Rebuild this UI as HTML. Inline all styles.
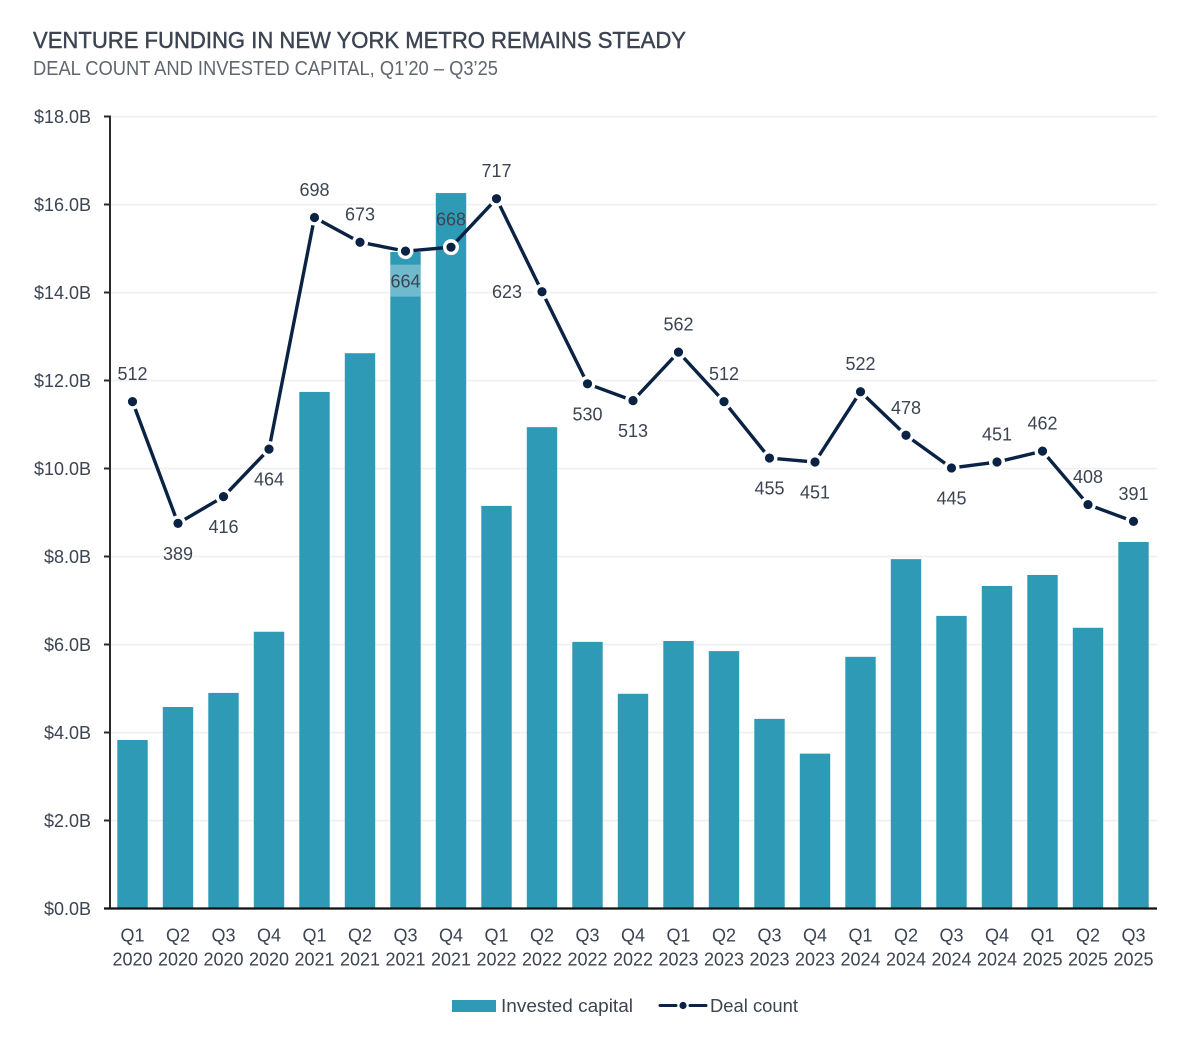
<!DOCTYPE html>
<html lang="en">
<head>
<meta charset="utf-8">
<title>Venture funding in New York Metro</title>
<style>
html,body{margin:0;padding:0;background:#fff;width:1199px;height:1044px;overflow:hidden}
svg{display:block}
text{font-family:"Liberation Sans",sans-serif;fill:#3c4452}
</style>
</head>
<body>
<svg id="chart" xmlns="http://www.w3.org/2000/svg" width="1199" height="1044" viewBox="0 0 1199 1044">
  <text x="33" y="48" font-size="23.5" textLength="653" lengthAdjust="spacingAndGlyphs" stroke="#3c4452" stroke-width="0.45">VENTURE FUNDING IN NEW YORK METRO REMAINS STEADY</text>
  <text x="33" y="75" font-size="20" textLength="465" lengthAdjust="spacingAndGlyphs" style="fill:#5f6670">DEAL COUNT AND INVESTED CAPITAL, Q1’20 – Q3’25</text>
  <g id="grid"></g>
  <g id="bars"></g>
  <g id="axes"></g>
  <g id="line"></g>
  <g id="labels"></g>
  <g id="xlabels"></g>
  <g>
    <g>
      <rect x="452" y="1000" width="44" height="12" fill="#2e9ab5"></rect>
      <text x="501" y="1012" font-size="18.5" textLength="132" lengthAdjust="spacingAndGlyphs">Invested capital</text>
    </g>
    <g>
      <line x1="660" x2="676" y1="1005.5" y2="1005.5" stroke="#0a2344" stroke-width="3" stroke-linecap="round"></line>
      <circle cx="683" cy="1005.5" r="3.6" fill="#0a2344"></circle>
      <line x1="690" x2="706" y1="1005.5" y2="1005.5" stroke="#0a2344" stroke-width="3" stroke-linecap="round"></line>
      <text x="710" y="1012" font-size="18.5" textLength="88" lengthAdjust="spacingAndGlyphs">Deal count</text>
    </g>
  </g>
</svg>
<script>
const quarters = ["Q1","Q2","Q3","Q4","Q1","Q2","Q3","Q4","Q1","Q2","Q3","Q4","Q1","Q2","Q3","Q4","Q1","Q2","Q3","Q4","Q1","Q2","Q3"];
const years = ["2020","2020","2020","2020","2021","2021","2021","2021","2022","2022","2022","2022","2023","2023","2023","2023","2024","2024","2024","2024","2025","2025","2025"];
const investedCapital = [3.83,4.58,4.9,6.29,11.74,12.62,14.92,16.26,9.15,10.94,6.06,4.88,6.08,5.85,4.31,3.52,5.72,7.94,6.65,7.33,7.58,6.38,8.33];
const dealCount = [512,389,416,464,698,673,664,668,717,623,530,513,562,512,455,451,522,478,445,451,462,408,391];
const labelSide = ["above","below","below","below","above","above","below","above","above","left","below","below","above","above","below","below","above","above","below","above","above","above","above"];
const yTicks = [0,2,4,6,8,10,12,14,16,18];

const svgNS = "http://www.w3.org/2000/svg";
const PLOT = {left:110, right:1157, top:116.5, bottom:908.5, firstX:132.5, stepX:45.5, barW:30.4};
const CAP_MAX = 18, DEAL_MAX = 800;
const xPos = i => PLOT.firstX + i * PLOT.stepX;
const yCap = v => PLOT.bottom - (v / CAP_MAX) * (PLOT.bottom - PLOT.top);
const yDeal = v => PLOT.bottom - (v / DEAL_MAX) * (PLOT.bottom - PLOT.top);

function mk(tag, parent, attrs, txt) {
  const el = document.createElementNS(svgNS, tag);
  for (const k in attrs) el.setAttribute(k, attrs[k]);
  if (txt !== undefined) el.textContent = txt;
  parent.appendChild(el);
  return el;
}
const gGrid = document.getElementById("grid");
const gBars = document.getElementById("bars");
const gAxes = document.getElementById("axes");
const gLine = document.getElementById("line");
const gLabels = document.getElementById("labels");
const gX = document.getElementById("xlabels");

yTicks.forEach(t => {
  const y = yCap(t);
  if (t > 0) {
    const g = mk("line", gGrid, {x1:PLOT.left, x2:PLOT.right, y1:y, y2:y, stroke:"#efefef", "stroke-width":1.5});
    
    
  }
  const tick = mk("line", gAxes, {x1:104, x2:PLOT.left, y1:y, y2:y, stroke:"#2a2a2a", "stroke-width":2});
  
  
  const lab = mk("text", gAxes, {x:91, y:y+6.5, "text-anchor":"end", "font-size":18}, "$" + t.toFixed(1) + "B");
  
  
});

investedCapital.forEach((v, i) => {
  const y = yCap(v);
  const r = mk("rect", gBars, {x:xPos(i)-PLOT.barW/2, y:y, width:PLOT.barW, height:PLOT.bottom-y, fill:"#2e9ab5"});
  
  
});

const yAxis = mk("line", gAxes, {x1:PLOT.left, x2:PLOT.left, y1:PLOT.top-1, y2:PLOT.bottom+1, stroke:"#2a2a2a", "stroke-width":2});


const xAxis = mk("line", gAxes, {x1:104, x2:PLOT.right, y1:PLOT.bottom, y2:PLOT.bottom, stroke:"#111", "stroke-width":2.2});



const pts = dealCount.map((d, i) => xPos(i) + "," + yDeal(d)).join(" ");
const poly = mk("polyline", gLine, {points:pts, fill:"none", stroke:"#0a2344", "stroke-width":3.4, "stroke-linejoin":"round"});



dealCount.forEach((d, i) => {
  const c = mk("circle", gLine, {cx:xPos(i), cy:yDeal(d), r:6.3, fill:"#0a2344", stroke:"#fff", "stroke-width":3.4});
  
  

  let lx = xPos(i), ly = yDeal(d);
  const side = labelSide[i];
  if (side === "above") ly -= 21.5;
  else if (side === "below") ly += 36.5;
  else { lx -= 35; ly += 6.5; }
  if (side === "below" && ly - 20 > yCap(investedCapital[i])) {
    const halo = mk("rect", gLabels, {x:xPos(i)-15.2, y:ly-23, width:30.4, height:32, fill:"#fff", opacity:0.32});
    
    
  }
  const t = mk("text", gLabels, {x:lx, y:ly, "text-anchor":"middle", "font-size":18}, String(d));
  
  
});

quarters.forEach((q, i) => {
  const a = mk("text", gX, {x:xPos(i), y:941.5, "text-anchor":"middle", "font-size":18}, q);
  
  
  const b = mk("text", gX, {x:xPos(i), y:965.5, "text-anchor":"middle", "font-size":18}, years[i]);
  
  
});
</script>
</body>
</html>
